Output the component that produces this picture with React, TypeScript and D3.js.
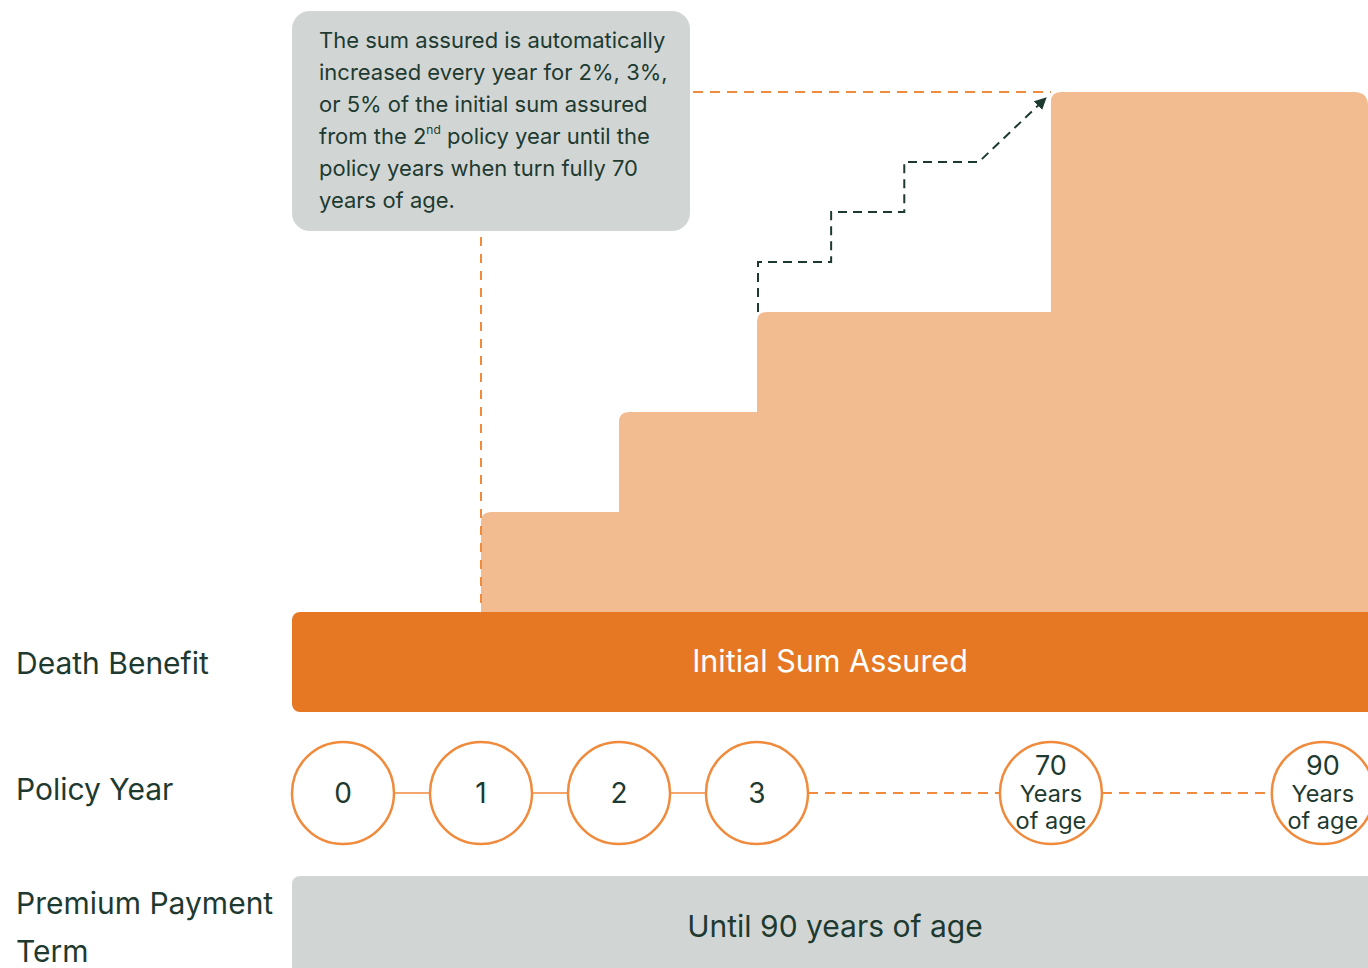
import React from "react";
import * as d3 from "d3";

// ---- data ----
const nodeLabels = ["0", "1", "2", "3", "70", "90"];
const nodeSubLabels = ["", "", "", "", "Years|of age", "Years|of age"];
const nodeSlots = [0, 1, 2, 3, 5.13, 7.1]; // horizontal slot positions of the policy-year nodes
const linkStyles = ["solid", "solid", "solid", "dashed", "dashed"]; // connectors between nodes
const stepStartSlots = [1, 2, 3, 5.13]; // policy year index where each step begins
const stepLevels = [1, 2, 3, 5.2]; // sum assured level (relative units above initial)
const stairLevels = [3, 3.5, 4, 4.5]; // dashed illustrative stair
const stairSlots = [3, 3.53, 4.06, 4.6];
const rowLabels = ["Death Benefit", "Policy Year", "Premium Payment|Term"];
const calloutLines = [
  "The sum assured is automatically",
  "increased every year for 2%, 3%,",
  "or 5% of the initial sum assured",
  "from the 2^nd policy year until the",
  "policy years when turn fully 70",
  "years of age.",
];

const W = 1368;
const H = 968;
const FONT = "Inter, 'Open Sans', sans-serif";
const DARK = "#1e3a30";
const ORANGE = "#e77823";
const LIGHT = "#f2bb90";
const GREY = "#d1d6d5";
const LINE_OR = "#f08a3c";

export default function App() {
  const x = d3.scaleLinear().domain([0, 1]).range([343, 481]);
  const y = d3.scaleLinear().domain([0, 5.2]).range([612, 92]);
  const r = 10;
  const rightEdge = W;

  // step shape
  const p = d3.path();
  p.moveTo(x(stepStartSlots[0]), y(0));
  stepStartSlots.forEach((s, i) => {
    const sx = x(s);
    const ty = y(stepLevels[i]);
    p.lineTo(sx, ty + r);
    p.quadraticCurveTo(sx, ty, sx + r, ty);
    const nx = i < stepStartSlots.length - 1 ? x(stepStartSlots[i + 1]) : rightEdge - 14;
    p.lineTo(nx, ty);
    if (i === stepStartSlots.length - 1) {
      p.quadraticCurveTo(rightEdge, ty, rightEdge, ty + 14);
    }
  });
  p.lineTo(rightEdge, y(0));
  p.closePath();

  // dashed stair path
  const sp = d3.path();
  sp.moveTo(x(3) + 1, y(3));
  for (let i = 1; i < stairLevels.length; i++) {
    sp.lineTo(x(stairSlots[i - 1]) + 1, y(stairLevels[i]));
    sp.lineTo(x(stairSlots[i]) + 1, y(stairLevels[i]));
  }
  const arrowEnd: [number, number] = [x(5.13) - 6, y(5.2) + 7];
  sp.lineTo(arrowEnd[0], arrowEnd[1]);

  const nodeR = 51;
  const nodeY = 793;

  return (
    <svg width={W} height={H} style={{ position: "absolute", left: 0, top: 0 }} fontFamily={FONT}>
      <defs>
        <marker id="arr" viewBox="0 0 10 10" refX="8" refY="5" markerWidth="6" markerHeight="6" orient="auto">
          <path d="M0,0 L10,5 L0,10 z" fill={DARK} />
        </marker>
      </defs>
      <rect x={0} y={0} width={W} height={H} fill="#fff" />

      {/* step area */}
      <path d={p.toString()} fill={LIGHT} />

      {/* orange dashed guide lines */}
      <line x1={x(1)} x2={x(1)} y1={237} y2={611} stroke={LINE_OR} strokeWidth={2} strokeDasharray="9 8" />
      <line x1={693} x2={x(5.13)} y1={y(5.2)} y2={y(5.2)} stroke={LINE_OR} strokeWidth={2} strokeDasharray="10 7" />

      {/* dark dashed stair */}
      <path d={sp.toString()} fill="none" stroke={DARK} strokeWidth={2} strokeDasharray="9 6" markerEnd="url(#arr)" />

      {/* callout */}
      <rect x={292} y={11} width={398} height={220} rx={18} fill={GREY} />
      {calloutLines.map((ln, i) => {
        const parts = ln.split("^");
        return (
          <text key={i} x={319} y={48 + i * 32} fontSize={22} fill={DARK}>
            {parts.length === 1 ? (
              ln
            ) : (
              <>
                {parts[0]}
                <tspan fontSize={12} dy={-10}>
                  {parts[1].split(" ")[0]}
                </tspan>
                <tspan dy={10}>{" " + parts[1].split(" ").slice(1).join(" ")}</tspan>
              </>
            )}
          </text>
        );
      })}

      {/* death benefit bar */}
      <rect x={292} y={612} width={W + 20 - 292} height={100} rx={8} fill={ORANGE} />
      <text x={830} y={672} textAnchor="middle" fontSize={30.5} fill="#fff">
        Initial Sum Assured
      </text>

      {/* policy year connectors */}
      {linkStyles.map((st, i) => (
        <line
          key={i}
          x1={x(nodeSlots[i]) + nodeR}
          x2={x(nodeSlots[i + 1]) - nodeR}
          y1={nodeY}
          y2={nodeY}
          stroke={LINE_OR}
          strokeWidth={st === "solid" ? 1.5 : 2}
          strokeDasharray={st === "solid" ? undefined : "10 7"}
        />
      ))}
      {nodeLabels.map((lb, i) => {
        const cx = x(nodeSlots[i]);
        const sub = nodeSubLabels[i];
        return (
          <g key={lb}>
            <circle cx={cx} cy={nodeY} r={nodeR} fill="#fff" stroke={LINE_OR} strokeWidth={2.5} />
            {sub ? (
              <text textAnchor="middle" fill={DARK}>
                <tspan x={cx} y={nodeY - 18} fontSize={27}>
                  {lb}
                </tspan>
                {sub.split("|").map((s, j) => (
                  <tspan key={j} x={cx} y={nodeY + 9 + j * 27} fontSize={23.5}>
                    {s}
                  </tspan>
                ))}
              </text>
            ) : (
              <text x={cx} y={nodeY + 10} textAnchor="middle" fontSize={28} fill={DARK}>
                {lb}
              </text>
            )}
          </g>
        );
      })}

      {/* premium payment bar */}
      <rect x={292} y={876} width={W + 20 - 292} height={120} rx={8} fill={GREY} />
      <text x={835} y={937} textAnchor="middle" fontSize={30} fill={DARK}>
        Until 90 years of age
      </text>

      {/* row labels */}
      <text x={16} y={674} fontSize={30} fill={DARK}>
        {rowLabels[0]}
      </text>
      <text x={16} y={800} fontSize={30} fill={DARK}>
        {rowLabels[1]}
      </text>
      {rowLabels[2].split("|").map((s, j) => (
        <text key={j} x={16} y={914 + j * 48} fontSize={30} fill={DARK}>
          {s}
        </text>
      ))}
    </svg>
  );
}
